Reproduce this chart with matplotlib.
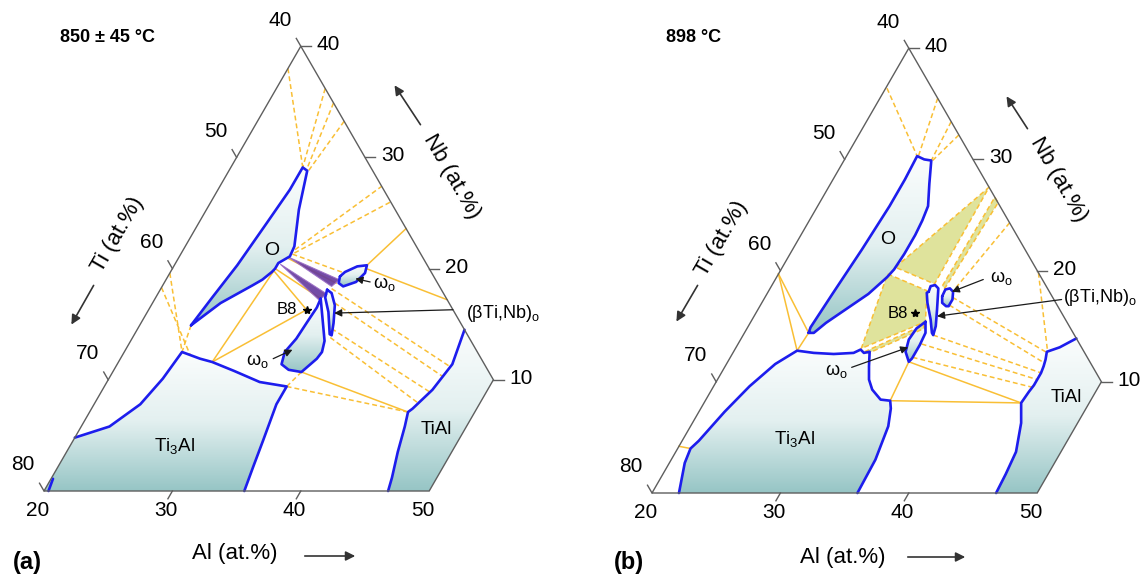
import numpy as np
import matplotlib
matplotlib.use("Agg")
import matplotlib.pyplot as plt
from matplotlib.patches import Polygon
from matplotlib.colors import LinearSegmentedColormap

plt.rcParams["font.family"] = ["Liberation Sans", "DejaVu Sans"]
plt.rcParams["mathtext.fontset"] = "custom"
plt.rcParams["mathtext.rm"] = "Liberation Sans"
plt.rcParams["mathtext.it"] = "Liberation Sans:italic"
plt.rcParams["mathtext.bf"] = "Liberation Sans:bold"

# ---------------- compositions, (Al at.%, Nb at.%) ----------------
al_ticks = [20, 30, 40, 50]
nb_ticks = [10, 20, 30, 40]
ti_ticks = [40, 50, 60, 70, 80]
frame = [(20, 0), (50, 0), (50, 10), (20, 40)]

# (a) 850 +/- 45 C
a_ti3al = [(20.0, 4.8), (22.2, 5.8), (23.6, 7.8), (24.2, 10.1), (24.5, 12.5), (26.2, 11.9),
           (27.3, 11.6), (29.4, 10.8), (31.9, 9.8), (34.2, 9.4), (34.2, 7.8), (34.8, 4.5),
           (35.2, 2.2), (35.6, 0.0)]
a_ti3al_edge = [(20.35, 0.0), (20.15, 1.1)]
a_tial = [(45.5, 14.5), (46.1, 11.4), (45.7, 9.1), (45.0, 7.4), (44.8, 7.1), (45.2, 5.8),
          (45.8, 3.5), (46.5, 1.2), (46.8, 0.0)]
a_o = [(24.0, 14.9), (24.4, 17.4), (24.9, 20.3), (25.3, 24.1), (25.6, 27.1), (25.6, 29.1),
       (26.1, 28.8), (27.2, 25.3), (28.5, 22.0), (28.6, 21.1), (28.3, 20.8), (28.0, 20.5),
       (28.0, 20.0), (27.9, 19.7), (27.5, 19.0), (27.0, 18.5), (25.3, 16.9)]
a_omega_up = [(33.4, 19.3), (33.6, 19.7), (34.3, 20.2), (35.0, 20.3), (35.2, 19.6), (34.9, 18.8),
              (34.1, 18.4), (33.6, 18.7)]
a_beta = [(33.0, 18.1), (33.5, 17.8), (34.3, 16.7), (35.0, 15.1), (35.4, 14.0), (35.2, 14.1),
          (34.1, 16.1), (33.2, 17.4)]
a_omega_low = [(32.9, 17.3), (35.1, 13.5), (35.4, 12.5), (35.3, 11.9), (34.7, 10.7), (33.6, 10.9),
               (32.8, 11.4), (32.5, 12.5), (32.8, 13.7), (32.9, 15.2), (33.0, 16.5)]
a_wedges = [
    [(28.6, 21.0), (33.5, 19.0), (33.2, 18.4)],
    [(28.2, 20.4), (33.2, 17.7), (32.8, 17.2)],
]
a_b8 = (32.3, 16.3)
a_solid = [
    [(35.0, 20.3), (36.4, 23.6)],
    [(35.1, 20.0), (42.8, 17.2)],
    [(28.0, 19.8), (32.3, 16.3)],
    [(28.0, 19.8), (27.3, 11.6)],
    [(27.3, 11.6), (32.3, 16.3)],
    [(28.0, 20.0), (32.9, 17.3)],
    [(28.6, 20.9), (33.4, 18.7)],
    [(34.7, 10.7), (44.8, 7.1)],
]
a_dashed = [
    [(20.0, 38.0), (25.6, 29.1)],
    [(23.8, 36.2), (25.6, 29.1)],
    [(25.1, 34.9), (26.0, 28.9)],
    [(26.75, 33.25), (26.2, 28.8)],
    [(20.0, 19.6), (24.5, 12.5)],
    [(20.0, 18.3), (25.3, 12.2)],
    [(24.0, 14.9), (24.5, 12.5)],
    [(28.7, 21.7), (32.6, 27.4)],
    [(28.8, 21.4), (34.0, 26.0)],
    [(28.7, 21.3), (33.6, 19.6)],
    [(33.3, 18.2), (46.0, 11.2)],
    [(34.2, 16.9), (45.9, 10.3)],
    [(35.1, 14.6), (45.6, 8.9)],
    [(35.4, 13.8), (45.2, 7.9)],
    [(34.2, 9.4), (44.8, 7.1)],
    [(34.2, 9.4), (34.7, 10.7)],
]

# (b) 898 C
b_ti3al = [(22.1, 0.0), (21.2, 2.7), (21.0, 4.0), (21.3, 4.7), (22.0, 7.3), (22.8, 9.6),
           (23.8, 11.6), (24.9, 12.8), (26.3, 12.6), (27.9, 12.5), (29.4, 12.6), (29.8, 12.9),
           (30.2, 12.6), (30.6, 12.7), (31.2, 11.4), (31.8, 10.2), (32.5, 9.3), (33.6, 8.4),
           (34.4, 8.3), (34.8, 7.6), (35.4, 6.0), (35.9, 3.0), (36.0, 0.0)]
b_tial = [(46.1, 13.9), (45.2, 13.1), (44.4, 12.7), (44.65, 12.0), (44.8, 11.4), (44.9, 10.8),
          (44.9, 10.2), (44.9, 9.7), (44.8, 9.1), (44.7, 8.1), (45.6, 6.3), (46.5, 3.7),
          (46.7, 1.7), (46.8, 0.0)]
b_o = [(25.0, 14.4), (24.9, 14.9), (25.1, 17.9), (25.4, 21.9), (25.6, 25.8), (25.6, 28.2),
       (25.5, 30.3), (26.2, 30.0), (26.8, 29.9), (27.7, 27.8), (28.6, 25.8), (28.8, 24.5),
       (28.9, 23.2), (28.9, 21.5), (28.8, 20.1), (28.6, 19.4), (27.9, 17.9), (26.9, 16.6),
       (25.9, 15.3), (25.4, 14.4)]
b_beta = [(32.5, 18.1), (32.4, 18.6), (32.7, 18.7), (33.1, 18.4), (33.95, 16.5), (34.6, 15.0),
          (34.8, 14.2), (34.6, 14.4), (33.9, 15.6), (32.9, 17.1), (32.4, 18.0)]
b_omega_up = [(33.75, 17.7), (33.7, 18.3), (34.0, 18.4), (34.4, 18.1), (34.7, 17.4), (34.7, 16.8),
              (34.5, 16.8), (34.05, 17.1)]
b_omega_low = [(33.6, 15.4), (33.2, 14.8), (33.1, 13.8), (33.4, 12.7), (34.1, 11.8), (34.2, 12.1),
               (34.2, 13.3), (34.1, 14.4)]
b_green = [
    [(28.8, 20.3), (32.5, 27.5), (32.6, 18.8)],
    [(33.4, 26.6), (33.9, 26.1), (33.6, 18.4), (33.3, 18.6)],
    [(28.5, 19.7), (32.3, 18.2), (33.6, 15.4), (29.8, 13.0)],
    [(30.2, 12.7), (33.6, 15.1), (33.8, 14.8), (30.6, 12.6)],
]
b_b8 = (32.4, 16.2)
b_solid = [
    [(20.0, 19.7), (24.9, 12.8)],
    [(20.0, 19.7), (25.0, 14.4)],
    [(24.9, 12.8), (25.0, 14.4)],
    [(20.0, 4.2), (21.0, 4.0)],
    [(34.1, 11.8), (44.7, 8.1)],
    [(34.1, 11.8), (34.4, 8.3)],
    [(34.4, 8.3), (44.7, 8.1)],
]
b_dashed = [
    [(20.1, 36.4), (25.5, 30.3)],
    [(24.5, 35.5), (25.6, 30.3)],
    [(26.6, 33.4), (26.8, 29.9)],
    [(27.8, 32.2), (26.9, 29.9)],
    [(35.7, 24.3), (34.4, 18.3)],
    [(40.2, 19.8), (44.4, 12.8)],
    [(34.6, 17.6), (44.5, 12.6)],
    [(34.7, 16.9), (44.7, 11.7)],
    [(34.8, 14.2), (44.9, 10.8)],
    [(34.3, 13.4), (44.9, 10.2)],
    [(34.2, 12.2), (44.9, 9.5)],
]

# ---------------- drawing ----------------
W, H = 1145, 579
SCALE = 12.84          # pixels per at.% along the Al axis
SQ3 = np.sqrt(3.0)
BLUE = "#1d1ded"
YEL = "#f9bf35"
GREEN = "#dfe39c"
GRAY = "#5e5e5e"
shade_cmap = LinearSegmentedColormap.from_list("shade", ["#fbfdfd", "#e3f0f0", "#96c5c5"])

fig = plt.figure(figsize=(W / 100, H / 100), dpi=100)


def px(x, y):
    return x / W, 1 - y / H


def ftext(x, y, s, **kw):
    kw.setdefault("ha", "center")
    kw.setdefault("va", "center")
    fig.text(*px(x, y), s, **kw)


def to_xy(pts):
    p = np.asarray(pts, dtype=float).reshape(-1, 2)
    return np.column_stack([p[:, 0] + p[:, 1] / 2.0, p[:, 1] * SQ3 / 2.0])


def shade(ax, pts, z=1):
    xy = to_xy(pts)
    patch = Polygon(xy, closed=True, facecolor="none", edgecolor="none")
    ax.add_patch(patch)
    x0, y0 = xy.min(axis=0)
    x1, y1 = xy.max(axis=0)
    grad = np.linspace(0, 1, 256).reshape(-1, 1)
    im = ax.imshow(grad, extent=(x0, x1, y0, y1), origin="upper", cmap=shade_cmap,
                   aspect="auto", interpolation="bilinear", zorder=z)
    im.set_clip_path(patch)


def outline(ax, pts, closed=False):
    xy = to_xy(pts)
    if closed:
        xy = np.vstack([xy, xy[:1]])
    ax.plot(xy[:, 0], xy[:, 1], color=BLUE, lw=1.9, solid_joinstyle="round",
            solid_capstyle="round", zorder=5)


def tie(ax, seg, dashed):
    xy = to_xy(seg)
    if dashed:
        ax.plot(xy[:, 0], xy[:, 1], color=YEL, lw=1.1, ls=(0, (3.2, 2.0)), zorder=3)
    else:
        ax.plot(xy[:, 0], xy[:, 1], color=YEL, lw=1.1, zorder=3)


def arrow(ax, tail, head):
    ax.annotate("", xy=tuple(to_xy(head)[0]), xytext=tuple(to_xy(tail)[0]),
                arrowprops=dict(arrowstyle="-|>", color="#1a1a1a", lw=0.9,
                                mutation_scale=11, shrinkA=0, shrinkB=0), zorder=7)


def frame_and_ticks(ax):
    xy = to_xy(frame)
    ax.add_patch(Polygon(xy, closed=True, fill=False, edgecolor=GRAY, lw=1.0, zorder=6))
    L = 0.7
    for al in al_ticks:
        p = to_xy([(al, 0)])[0]
        if al in (30, 40):
            ax.plot([p[0], p[0] - 0.5 * L], [p[1], p[1] - SQ3 / 2 * L], color=GRAY, lw=1.0, zorder=6)
        ax.annotate(str(al), p, xytext=(-6.5, -20), textcoords="offset pixels",
                    ha="center", va="center", fontsize=15)
    for ti in ti_ticks:
        p = to_xy([(20, 80 - ti)])[0]
        ax.plot([p[0], p[0] - 0.5 * L], [p[1], p[1] + SQ3 / 2 * L], color=GRAY, lw=1.0, zorder=6)
        ax.annotate(str(ti), p, xytext=(-21, 26), textcoords="offset pixels",
                    ha="center", va="center", fontsize=15)
    for nb in nb_ticks:
        p = to_xy([(60 - nb, nb)])[0]
        ax.plot([p[0], p[0] + 0.8], [p[1], p[1]], color=GRAY, lw=1.0, zorder=6)
        ax.annotate(str(nb), p, xytext=(27.5, 1.5), textcoords="offset pixels",
                    ha="center", va="center", fontsize=15)


def make_axes(ox, oy):
    ax = fig.add_axes([0, 0, 1, 1])
    ax.axis("off")
    return ax, (20 - ox / SCALE, 20 + (W - ox) / SCALE), (-(H - oy) / SCALE, oy / SCALE)


def axis_titles(dx, ti_c, ti_a, nb_c, nb_a, al_c, al_a):
    ftext(*ti_c, "Ti (at.%)", rotation=60, fontsize=16)
    ftext(*nb_c, "Nb (at.%)", rotation=-60, fontsize=16)
    ftext(*al_c, "Al (at.%)", fontsize=16)
    for a, b in (ti_a, nb_a, al_a):
        fig.add_artist(matplotlib.patches.FancyArrowPatch(
            px(*a), px(*b), transform=fig.transFigure, arrowstyle="-|>",
            mutation_scale=14, lw=1.2, color="#333333"))


OMEGA = r"ω$_{\mathrm{o}}$"
BETA = r"(βTi,Nb)$_{\mathrm{o}}$"
TI3AL = r"Ti$_{3}$Al"

# ---------- panel (a) ----------
ax, xl, yl = make_axes(44, 491)
shade(ax, [(20, 0)] + a_ti3al)
shade(ax, a_tial + [(50, 0), (50, 10)])
shade(ax, a_o)
shade(ax, a_omega_up)
shade(ax, a_beta)
shade(ax, a_omega_low)
for seg in a_solid:
    tie(ax, seg, False)
for seg in a_dashed:
    tie(ax, seg, True)
for w in a_wedges:
    ax.add_patch(Polygon(to_xy(w), closed=True, facecolor="#64389c", edgecolor="#9a6cc4",
                         lw=0.8, alpha=0.9, zorder=4))
outline(ax, a_ti3al)
outline(ax, a_ti3al_edge)
outline(ax, a_tial)
outline(ax, a_o, closed=True)
outline(ax, a_omega_up, closed=True)
outline(ax, a_beta, closed=True)
outline(ax, a_omega_low, closed=True)
b8 = to_xy([a_b8])[0]
ax.plot(b8[0], b8[1], marker="*", color="black", ms=6, zorder=7)
arrow(ax, (43.7, 16.3), (34.6, 16.0))
arrow(ax, (36.0, 18.8), (34.7, 19.1))
arrow(ax, (31.9, 11.9), (33.0, 12.7))
frame_and_ticks(ax)
ax.set_xlim(*xl)
ax.set_ylim(*yl)

ftext(107, 37, "850 ± 45 °C", fontsize=13, fontweight="bold")
ftext(27, 563, "(a)", fontsize=17, fontweight="bold")
ftext(272, 250, "O", fontsize=14)
ftext(174, 446, TI3AL, fontsize=13.5)
ftext(436, 429, "TiAl", fontsize=13.5)
ftext(287, 309, "B8", fontsize=12)
ftext(384, 284, OMEGA, fontsize=13)
ftext(257, 361, OMEGA, fontsize=13)
ftext(466, 313, BETA, fontsize=13, ha="left")
axis_titles(0, (118, 235), ((95, 283), (70, 327)), (452, 177), ((422, 127), (393, 83)),
            (235, 554), ((302, 556), (358, 556)))

# ---------- panel (b) ----------
ax, xl, yl = make_axes(652, 493)
shade(ax, b_ti3al)
shade(ax, b_tial + [(50, 0), (50, 10)])
shade(ax, b_o)
shade(ax, b_beta)
shade(ax, b_omega_up)
shade(ax, b_omega_low)
for g in b_green:
    xy = to_xy(g)
    ax.add_patch(Polygon(xy, closed=True, facecolor=GREEN, edgecolor="none", zorder=2))
    tie(ax, np.vstack([g, g[:1]]), True)
for seg in b_solid:
    tie(ax, seg, False)
for seg in b_dashed:
    tie(ax, seg, True)
outline(ax, b_ti3al)
outline(ax, b_tial)
outline(ax, b_o, closed=True)
outline(ax, b_beta, closed=True)
outline(ax, b_omega_up, closed=True)
outline(ax, b_omega_low, closed=True)
b8 = to_xy([b_b8])[0]
ax.plot(b8[0], b8[1], marker="*", color="black", ms=6, zorder=7)
arrow(ax, (36.2, 19.2), (34.3, 18.1))
arrow(ax, (43.2, 17.4), (34.25, 15.9))
arrow(ax, (29.9, 11.3), (33.4, 13.1))
frame_and_ticks(ax)
ax.set_xlim(*xl)
ax.set_ylim(*yl)

ftext(694, 37, "898 °C", fontsize=13, fontweight="bold")
ftext(629, 563, "(b)", fontsize=17, fontweight="bold")
ftext(888, 239, "O", fontsize=14)
ftext(794, 439, TI3AL, fontsize=13.5)
ftext(1066, 397, "TiAl", fontsize=13.5)
ftext(898, 313, "B8", fontsize=12)
ftext(1001, 278, OMEGA, fontsize=13)
ftext(836, 371, OMEGA, fontsize=13)
ftext(1063, 298, BETA, fontsize=13, ha="left")
axis_titles(0, (722, 239), ((699, 283), (675, 324)), (1059, 180), ((1029, 131), (1005, 94)),
            (843, 557), ((905, 557), (968, 557)))

fig.savefig("out.png", dpi=100)
